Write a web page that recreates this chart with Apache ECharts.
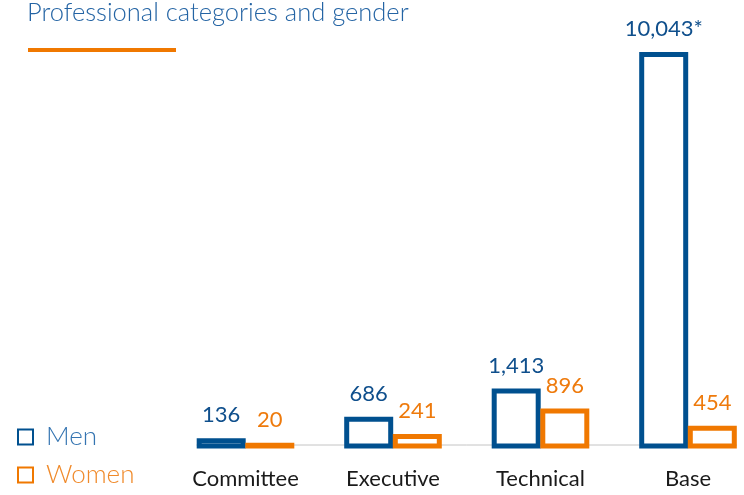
<!DOCTYPE html>
<html>
<head>
<meta charset="utf-8">
<script src="https://cdn.jsdelivr.net/npm/echarts@6/dist/echarts.min.js"></script>
<style>
  html, body { margin: 0; padding: 0; background: #fff; }
  #main { width: 744px; height: 495px; }
</style>
</head>
<body>
<div id="main"></div>
<script>
// data
var categories = ['Committee', 'Executive', 'Technical', 'Base'];
var men = [136, 686, 1413, 10043];
var women = [20, 241, 896, 454];
var menNotes = ['', '', '', '*'];

var blue = '#00508f';
var orange = '#f07800';

var myChart = echarts.init(document.getElementById('main'));

function fmt(v) {
    return v.toLocaleString('en-US');
}

// hollow bar with a centred border (bar series draws the border inside the rect)
function hollowBar(offset, stroke, textColor, notes) {
    return function (params, api) {
        var i = api.value(0);
        var v = api.value(1);
        var base = api.coord([i, 0]);
        var top = api.coord([i, v]);
        var w = 44;
        var cx = base[0] + offset;
        return {
            type: 'group',
            children: [{
                type: 'rect',
                shape: { x: cx - w / 2, y: top[1], width: w, height: base[1] - top[1] },
                style: { fill: '#fff', stroke: stroke, lineWidth: 5 }
            }, {
                type: 'text',
                x: cx,
                y: top[1] - 14.5,
                style: {
                    text: fmt(v) + (notes ? notes[params.dataIndex] : ''),
                    fill: textColor,
                    font: '22px Lato',
                    align: 'center',
                    verticalAlign: 'bottom'
                }
            }]
        };
    };
}

myChart.setOption({
    animation: false,
    title: {
        text: 'Professional categories and gender',
        left: 27,
        top: 0,
        padding: 0,
        textStyle: {
            fontFamily: 'Lato',
            fontWeight: 300,
            fontSize: 25.5,
            color: '#2464a4'
        }
    },
    legend: {
        orient: 'vertical',
        left: 17,
        top: 424,
        padding: 0,
        itemWidth: 15,
        itemHeight: 15,
        itemGap: 12,
        icon: 'rect',
        textStyle: {
            fontFamily: 'Lato',
            fontWeight: 300,
            fontSize: 26,
            lineHeight: 25,
            padding: [0, 0, 0, 8]
        },
        data: [
            { name: 'Men', itemStyle: { color: '#fff', borderColor: blue, borderWidth: 2 }, textStyle: { color: '#3474b1' } },
            { name: 'Women', itemStyle: { color: '#fff', borderColor: orange, borderWidth: 2 }, textStyle: { color: '#f08a2a' } }
        ]
    },
    grid: {
        left: 171.75,
        width: 590,
        top: 54.5,
        bottom: 49,
        outerBoundsMode: 'none'
    },
    xAxis: {
        type: 'category',
        data: categories,
        axisLine: { show: false },
        axisTick: { show: false },
        axisLabel: {
            margin: 22,
            fontFamily: 'Lato',
            fontSize: 22,
            color: '#1a1a1a'
        }
    },
    yAxis: {
        type: 'value',
        min: 0,
        max: 10043,
        show: false,
        splitLine: { show: false }
    },
    series: [{
        name: 'Men',
        type: 'custom',
        itemStyle: { color: '#fff', borderColor: blue, borderWidth: 2 },
        encode: { x: 0, y: 1 },
        data: men.map(function (v, i) { return [i, v]; }),
        renderItem: hollowBar(-24.3, blue, '#0f4f8c', menNotes)
    }, {
        name: 'Women',
        type: 'custom',
        itemStyle: { color: '#fff', borderColor: orange, borderWidth: 2 },
        encode: { x: 0, y: 1 },
        data: women.map(function (v, i) { return [i, v]; }),
        renderItem: hollowBar(24.3, orange, '#ee7a0c', null)
    }]
});

// baseline and decorative underline
var y0 = myChart.convertToPixel({ yAxisIndex: 0 }, 0);
var xFirst = myChart.convertToPixel({ xAxisIndex: 0 }, 0);
var xLast = myChart.convertToPixel({ xAxisIndex: 0 }, categories.length - 1);
myChart.setOption({
    graphic: [{
        type: 'line',
        z: -1,
        shape: { x1: xFirst - 49, y1: y0 - 1, x2: xLast + 49, y2: y0 - 1 },
        style: { stroke: '#c4c4c4', lineWidth: 1 }
    }, {
        type: 'rect',
        shape: { x: 28, y: 48, width: 148, height: 4 },
        style: { fill: orange }
    }]
});
</script>
</body>
</html>
